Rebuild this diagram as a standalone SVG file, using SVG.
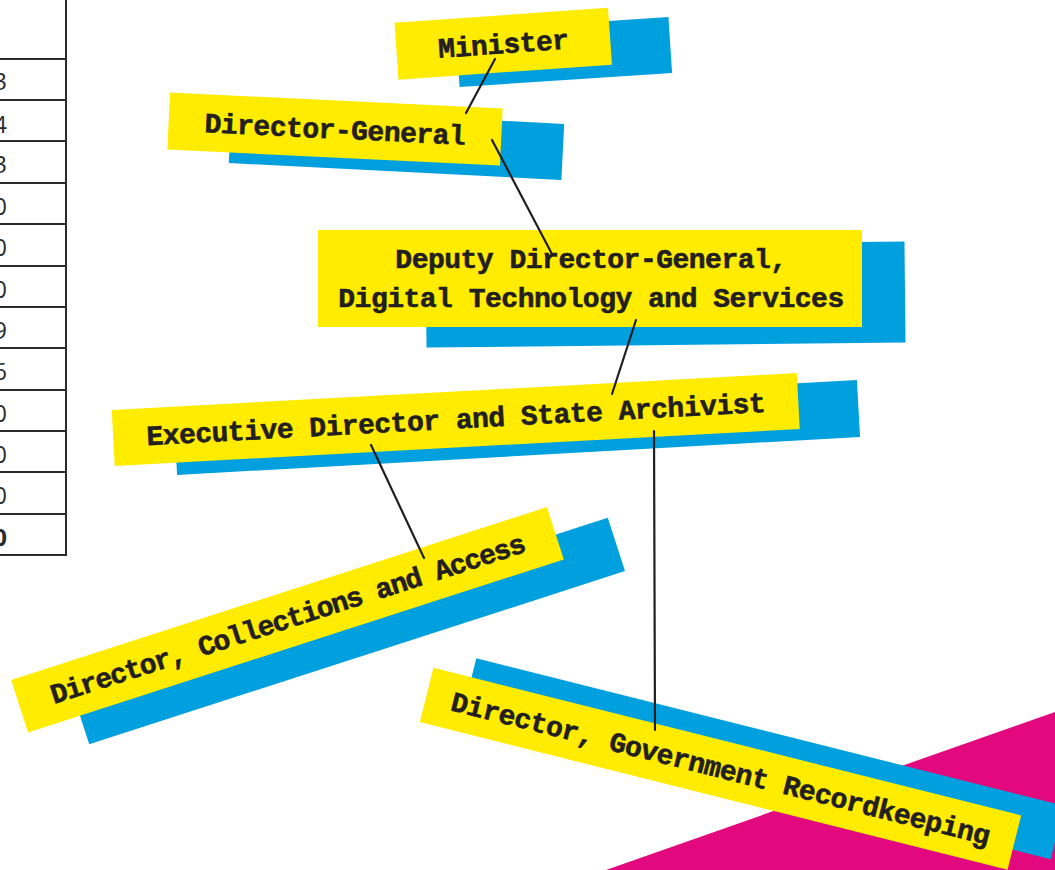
<svg xmlns="http://www.w3.org/2000/svg" width="1055" height="870" viewBox="0 0 1055 870">
<style>
.blue{fill:#009FDE}
.yel{fill:#FFEC00}
.lbl{font-family:"Liberation Mono","DejaVu Sans Mono",monospace;font-weight:bold;font-size:28px;letter-spacing:-0.5px;fill:#231F20;stroke:#231F20;stroke-width:0.6;text-anchor:middle}
.tl{stroke:#2b2b2b;stroke-width:2;fill:none}
.num{font-family:"Open Sans","Noto Sans",sans-serif;font-size:24px;fill:#2b2b2b;text-anchor:end}
.conn{stroke:#231F20;stroke-width:2.2;fill:none;stroke-linecap:round}
</style>
<rect width="1055" height="870" fill="#ffffff"/>
<g id="table">
<line class="tl" x1="66" y1="0" x2="66" y2="556"/>
<line class="tl" x1="0" y1="59" x2="67" y2="59"/>
<line class="tl" x1="0" y1="100" x2="67" y2="100"/>
<line class="tl" x1="0" y1="141" x2="67" y2="141"/>
<line class="tl" x1="0" y1="183" x2="67" y2="183"/>
<line class="tl" x1="0" y1="224" x2="67" y2="224"/>
<line class="tl" x1="0" y1="266" x2="67" y2="266"/>
<line class="tl" x1="0" y1="307" x2="67" y2="307"/>
<line class="tl" x1="0" y1="348" x2="67" y2="348"/>
<line class="tl" x1="0" y1="390" x2="67" y2="390"/>
<line class="tl" x1="0" y1="431" x2="67" y2="431"/>
<line class="tl" x1="0" y1="472" x2="67" y2="472"/>
<line class="tl" x1="0" y1="514" x2="67" y2="514"/>
<line class="tl" x1="0" y1="555" x2="67" y2="555"/>
<text class="num" x="7" y="90">3</text>
<text class="num" x="7" y="133">4</text>
<text class="num" x="7" y="173">3</text>
<text class="num" x="7" y="215">0</text>
<text class="num" x="7" y="256">0</text>
<text class="num" x="7" y="298">0</text>
<text class="num" x="7" y="339">9</text>
<text class="num" x="7" y="380">6</text>
<text class="num" x="7" y="422">0</text>
<text class="num" x="7" y="463">0</text>
<text class="num" x="7" y="504">0</text>
<text class="num" x="7" y="546" font-weight="bold">0</text>
</g>
<polygon id="accent" points="606,870 1055,712 1055,870" fill="#E2087E"/>
<g id="minister">
<rect class="blue" x="-106.5" y="-28" width="213" height="56" transform="translate(564,52) rotate(-3.8)"/>
<g transform="translate(503.25,43.75) rotate(-4)">
<rect class="yel" x="-107" y="-28.5" width="214" height="57"/>
<text class="lbl" x="0" y="9.5">Minister</text>
</g>
</g>
<g id="director-general">
<rect class="blue" x="-166.5" y="-28" width="333" height="56" transform="translate(396.5,143.5) rotate(2.9)"/>
<g transform="translate(335,129) rotate(2.75)">
<rect class="yel" x="-166.5" y="-28.5" width="333" height="57"/>
<text class="lbl" x="0" y="9.5">Director-General</text>
</g>
</g>
<g id="deputy-director-general">
<rect class="blue" x="-239.5" y="-50.5" width="479" height="101" transform="translate(665.5,294.5) rotate(-0.6)"/>
<rect class="yel" x="318" y="230" width="544" height="97"/>
<text class="lbl" x="591" y="268">Deputy Director-General,</text>
<text class="lbl" x="591" y="307">Digital Technology and Services</text>
</g>
<g id="executive-director">
<rect class="blue" x="-342" y="-28.5" width="684" height="57" transform="translate(517,427.5) rotate(-3.18)"/>
<g transform="translate(455.75,419.5) rotate(-3.09)">
<rect class="yel" x="-343" y="-28" width="686" height="56"/>
<text class="lbl" x="0" y="9">Executive Director and State Archivist</text>
</g>
</g>
<g id="director-collections">
<rect class="blue" x="-281.5" y="-28" width="563" height="56" transform="translate(348.5,631) rotate(-17.9)"/>
<g transform="translate(287.5,619.75) rotate(-17.9)">
<rect class="yel" x="-281.5" y="-27.5" width="563" height="55"/>
<text class="lbl" x="0" y="8.5" style="letter-spacing:-1.3px">Director, Collections and Access</text>
</g>
</g>
<g id="director-recordkeeping">
<rect class="blue" x="-303" y="-27.5" width="606" height="55" transform="translate(763.5,758.75) rotate(14.1)"/>
<g transform="translate(720.5,768.75) rotate(14.1)">
<rect class="yel" x="-303" y="-28" width="606" height="56"/>
<text class="lbl" x="0" y="9">Director, Government Recordkeeping</text>
</g>
</g>
<g id="connectors">
<line class="conn" x1="495" y1="59" x2="466" y2="113"/>
<line class="conn" x1="492" y1="140" x2="552" y2="254"/>
<line class="conn" x1="636" y1="320" x2="612" y2="394"/>
<line class="conn" x1="371" y1="445" x2="424" y2="558"/>
<line class="conn" x1="654" y1="431" x2="655" y2="730"/>
</g>
</svg>
